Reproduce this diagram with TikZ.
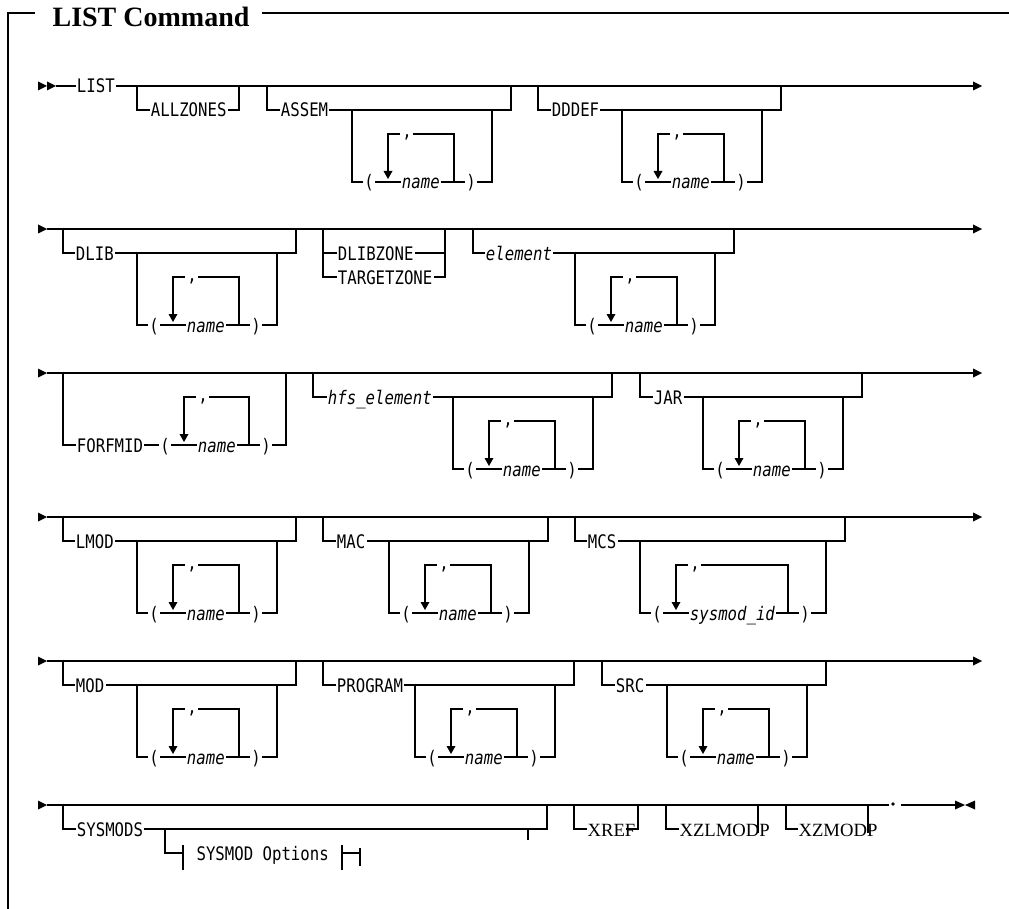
\documentclass[tikz,border=0pt]{standalone}
\usepackage{fontspec}
\setmainfont{Liberation Serif}
\newfontfamily\synfont[FakeStretch=0.84]{DejaVu Sans Mono}
\newcommand\synsize{\fontsize{14}{16}\selectfont}
% #1 name-line y, #2 "(" x, #3 loop right x, #4 text, #5 id
\newcommand\loopgrp[5]{%
  \draw (#2+19,#1-11) -- (#2+19,#1-48) -- (#2+31,#1-48);
  \draw (#2+44,#1-48) -- (#3,#1-48) -- (#3,#1);
  \fill (#2+14.5,#1-11) -- (#2+23.5,#1-11) -- (#2+19,#1-3) -- cycle;
  \node[sym] (#5c) at (#2+38,#1-44) {,};
  \node[sym] (#5o) at (#2,#1+7) {(};
  \node[kw] (#5n) at (#2+31,#1+7) {\itshape #4};
  \node[sym] (#5e) at (#3+17,#1+7) {)};
}
% #1 y0, #2 X1, #3 keyword x, #4 keyword, #5 inner L, #6 width, #7 name, #8 id
\newcommand\optgrp[8]{%
  \draw (#2,#1) -- (#2,#1+24) -- (#5+#6+19,#1+24) -- (#5+#6+19,#1);
  \draw (#5,#1+24) -- (#5,#1+96) -- (#5+#6,#1+96) -- (#5+#6,#1+24);
  \loopgrp{#1+96}{#5+17}{#5+#6-38}{#7}{#8}
  \node[kw] (#8k) at (#3-2,#1+31) {#4};
}
\newcommand\rowstart[1]{\fill (38,#1-4.5) -- (47,#1) -- (38,#1+4.5) -- cycle;}
\newcommand\rowend[1]{\fill (973,#1-4.5) -- (982,#1) -- (973,#1+4.5) -- cycle;}
\begin{document}
\begin{tikzpicture}[x=0.75pt,y=-0.75pt,line width=0.9pt,
  kw/.style={font=\synfont\synsize,fill=white,inner xsep=1pt,inner ysep=0.5pt,anchor=base west},
  sym/.style={kw,anchor=base},
  plain/.style={font=\synfont\synsize,inner sep=0pt,anchor=base west},
  ser/.style={font=\fontsize{14}{16}\selectfont,inner sep=0pt,anchor=base west}]
\useasboundingbox (0,0) rectangle (1009,909);
% frame and title
\draw[line width=1.1pt] (35,13) -- (8,13) -- (8,909);
\draw[line width=1.1pt] (262,13) -- (1009,13);
\node[anchor=base west,inner sep=0pt,font=\fontsize{21}{24}\selectfont\bfseries] (title) at (52,27) {LIST Command};

% ---------- Row 1 ----------
\fill (38,81.5) -- (47,86) -- (38,90.5) -- cycle;
\fill (47,81.5) -- (56,86) -- (47,90.5) -- cycle;
\draw (56,86) -- (974,86);
\rowend{86}
\draw (137,86) -- (137,110) -- (239,110) -- (239,86);
\node[kw] (allz) at (149,117) {ALLZONES};
\optgrp{86}{267}{281}{ASSEM}{352}{140}{name}{as}
\optgrp{86}{538}{552}{DDDEF}{622}{140}{name}{dd}
\node[kw] (list) at (75,93) {LIST};

% ---------- Row 2 ----------
\rowstart{229}
\draw (47,229) -- (974,229);
\rowend{229}
\optgrp{229}{63}{76}{DLIB}{137}{140}{name}{dl}
\draw (323,229) -- (323,277) -- (445,277) -- (445,229);
\draw (323,253) -- (445,253);
\node[kw] (dlz) at (336,260) {DLIBZONE};
\node[kw] (tgz) at (336,284) {TARGETZONE};
\optgrp{229}{473}{486}{\itshape element}{575}{140}{name}{el}

% ---------- Row 3 ----------
\rowstart{373}
\draw (47,373) -- (974,373);
\rowend{373}
\draw (63,373) -- (63,445) -- (286,445) -- (286,373);
\loopgrp{445}{165}{249}{name}{ff}
\node[kw] (ffk) at (75,452) {FORFMID};
\optgrp{373}{313}{328}{\itshape hfs\_element}{453}{140}{name}{hf}
\optgrp{373}{640}{654}{JAR}{703}{140}{name}{ja}

% ---------- Row 4 ----------
\rowstart{517}
\draw (47,517) -- (974,517);
\rowend{517}
\optgrp{517}{63}{76}{LMOD}{137}{140}{name}{lm}
\optgrp{517}{323}{337}{MAC}{389}{140}{name}{ma}
\optgrp{517}{575}{588}{MCS}{640}{186}{sysmod\_id}{mc}

% ---------- Row 5 ----------
\rowstart{661}
\draw (47,661) -- (974,661);
\rowend{661}
\optgrp{661}{63}{76}{MOD}{137}{140}{name}{mo}
\optgrp{661}{323}{337}{PROGRAM}{415}{140}{name}{pr}
\optgrp{661}{602}{616}{SRC}{667}{140}{name}{sr}

% ---------- Row 6 ----------
\rowstart{805}
\draw (47,805) -- (889,805);
\draw (63,805) -- (63,829) -- (547,829) -- (547,805);
\draw (165,829) -- (165,853) -- (183,853);
\draw (183,845) -- (183,870);
\draw (342,845) -- (342,870);
\draw (342,853) -- (360,853);
\draw (360,848) -- (360,866);
\draw (528,829) -- (528,840);
\node[kw] (sysm) at (75,836) {SYSMODS};
\node[plain] (sopt) at (196,860) {SYSMOD Options};
\draw (574,805) -- (574,829) -- (587,829);
\draw (626,829) -- (638,829) -- (638,805);
\node[ser] (xref) at (587,836) {XREF};
\draw (666,805) -- (666,829) -- (679,829);
\draw (758,805) -- (758,833);
\node[ser] (xzl) at (679,836) {XZLMODP};
\draw (786,805) -- (786,829) -- (798,829);
\draw (868,805) -- (868,833);
\node[ser] (xzm) at (798,836) {XZMODP};
\fill (893,804) circle[radius=1.4pt];
\draw[line width=1.6pt] (901,805) -- (918,805);
\draw (918,805) -- (957,805);
\fill (955,800.5) -- (965,805) -- (955,809.5) -- cycle;
\fill (975,800.5) -- (965,805) -- (975,809.5) -- cycle;
\end{tikzpicture}
\end{document}
